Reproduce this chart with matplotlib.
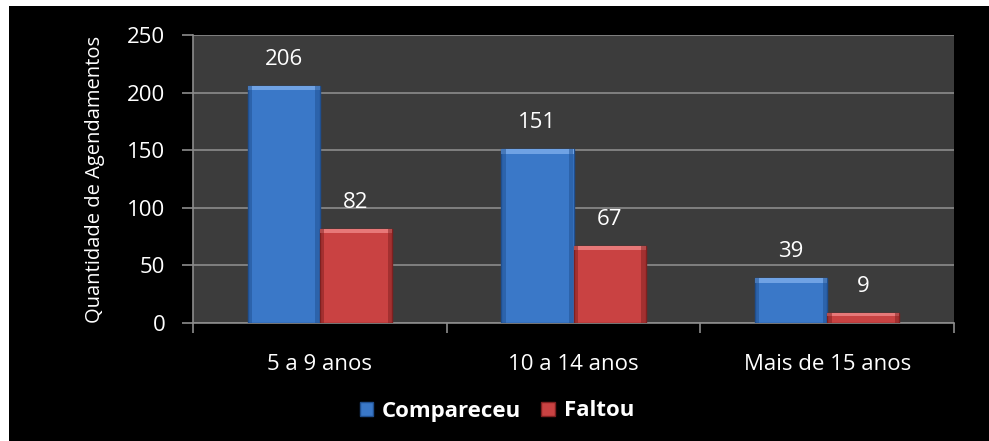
import numpy as np
import matplotlib.pyplot as plt
from matplotlib.patches import Rectangle

categories = ['5 a 9 anos', '10 a 14 anos', 'Mais de 15 anos']
compareceu = [206, 151, 39]
faltou = [82, 67, 9]
series_names = ['Compareceu', 'Faltou']
y_ticks = [0, 50, 100, 150, 200, 250]

plt.rcParams['font.family'] = ['Open Sans', 'DejaVu Sans']

fig = plt.figure(figsize=(9.89, 4.41), dpi=100, facecolor='white')
# black chart area inside a thin white frame
fig.patches.append(Rectangle((9 / 989, 0), 1 - 9 / 989, 1 - 6 / 441, transform=fig.transFigure,
                             facecolor='black', edgecolor='none', zorder=-10))

ax = fig.add_axes([193 / 989, 1 - 323 / 441, (954 - 193) / 989, (323 - 35) / 441])
ax.set_facecolor('#3c3c3c')

x = np.arange(len(categories))
w = 0.285


def bevel_bars(xs, vals, base, dark, light):
    bars = ax.bar(xs, vals, w, color=base, edgecolor=dark, linewidth=1.0, zorder=3)
    for b in bars:
        bx, by, bw, bh = b.get_x(), b.get_y(), b.get_width(), b.get_height()
        # lighter top strip and darker sides, rough bevel look
        ax.add_patch(Rectangle((bx, bh - min(4, bh * 0.3)), bw, min(4, bh * 0.3),
                               facecolor=light, edgecolor='none', zorder=4))
        ax.add_patch(Rectangle((bx, by), bw * 0.06, bh, facecolor=dark, alpha=0.5,
                               edgecolor='none', zorder=4))
        ax.add_patch(Rectangle((bx + bw * 0.94, by), bw * 0.06, bh, facecolor=dark, alpha=0.5,
                               edgecolor='none', zorder=4))
    return bars


b1 = bevel_bars(x - w / 2, compareceu, '#3a78c8', '#1f4f8f', '#6fa2e4')
b2 = bevel_bars(x + w / 2, faltou, '#c94242', '#7f2020', '#e77878')

for xs, vals in [(x - w / 2, compareceu), (x + w / 2, faltou)]:
    for xi, v in zip(xs, vals):
        ax.text(xi, v + 23, str(v), ha='center', va='center', color='white', fontsize=16, zorder=5)

ax.set_xlim(-0.5, 2.5)
ax.set_ylim(0, 250)
ax.set_yticks(y_ticks)
ax.yaxis.grid(True, color='#8c8c8c', linewidth=1.2, zorder=1)
ax.set_axisbelow(True)

ax.set_xticks(x)
ax.set_xticklabels(categories)
ax.set_xticks([-0.5, 0.5, 1.5, 2.5], minor=True)
ax.tick_params(axis='x', which='major', length=0, pad=22, colors='white', labelsize=16)
ax.tick_params(axis='x', which='minor', length=7, width=1.2, color='#8c8c8c')
ax.tick_params(axis='y', length=8, width=1.2, color='#8c8c8c', labelcolor='white',
               labelsize=16, pad=12)

for s in ['top', 'right']:
    ax.spines[s].set_visible(False)
for s in ['left', 'bottom']:
    ax.spines[s].set_color('#8c8c8c')
    ax.spines[s].set_linewidth(1.2)

ax.set_ylabel('Quantidade de Agendamentos', color='white', fontsize=14.5, labelpad=16)

leg = fig.legend([b1, b2], series_names, loc='center', bbox_to_anchor=(497 / 989, 1 - 411 / 441),
                 ncol=2, frameon=False, handlelength=0.6, handleheight=0.6, handletextpad=0.4,
                 columnspacing=0.9, prop={'weight': 'bold', 'size': 16})
for t in leg.get_texts():
    t.set_color('white')

fig.savefig('out.png', dpi=100, facecolor='white')
